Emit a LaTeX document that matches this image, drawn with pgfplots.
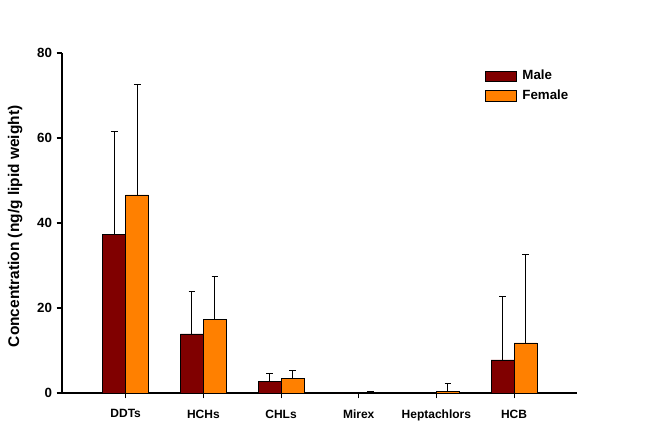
\documentclass[border=0pt]{standalone}
\usepackage{fontspec}
\setmainfont{Liberation Sans}
\usepackage{pgfplots}
\usepackage{pgfplotstable}
\pgfplotsset{compat=1.18}

\definecolor{male}{RGB}{128,0,0}
\definecolor{female}{RGB}{255,128,0}

% cat: 0 DDTs, 1 HCHs, 2 CHLs, 3 Mirex, 4 Heptachlors, 5 HCB
\pgfplotstableread{
x   m     merr  f     ferr
0   37.4  24.1  46.6  26.1
1   13.9  9.9   17.4  10.1
2   2.8   1.7   3.5   1.8
3   0     0     0.05  0.35
4   0.1   0     0.3   2.0
5   7.8   15.0  11.8  20.7
}\conc

\begin{document}
\begin{tikzpicture}[x=1pt,y=1pt]
\path[use as bounding box] (0,0) rectangle (493.5,327.75);
\begin{axis}[
  at={(46.5pt,33pt)}, anchor=south west,
  scale only axis,
  width=386.25pt, height=255pt,
  xmin=-0.82, xmax=5.81,
  ymin=0, ymax=80,
  axis x line*=bottom, axis y line*=left,
  axis line style={black, line width=0.8pt},
  tick align=outside,
  major tick length=4pt,
  tick style={black, line width=0.8pt},
  xtick={0,...,5},
  xticklabels={DDTs,HCHs,CHLs,Mirex,Heptachlors,HCB},
  ytick={0,20,...,80},
  yticklabel style={font=\bfseries\fontsize{10}{12}\selectfont},
  xticklabel style={font=\bfseries\fontsize{9}{11}\selectfont, yshift=-5pt},
  /pgf/number format/assume math mode=true,
  ylabel={Concentration (ng/g lipid weight)},
  ylabel style={font=\bfseries\fontsize{11.6}{13}\selectfont, at={(axis description cs:-0.091,0.49)}, anchor=center},
  ybar, bar width=0.296,
  legend style={draw=none, fill=none, at={(axis description cs:0.821,0.958)}, anchor=north west,
    font=\bfseries\fontsize{10}{11}\selectfont, row sep=2pt, column sep=2.5pt, inner sep=0pt},
  legend cell align=left,
  legend image code/.code={\draw[#1, draw=black, line width=0.5pt] (0pt,-3.9pt) rectangle (23pt,3.9pt);},
  clip=false,
]
\addplot[fill=male, draw=black, line width=0.5pt, bar shift=-0.148,
  error bars/.cd, y dir=plus, y explicit,
  error bar style={black, line width=0.7pt},
  error mark options={rotate=90, mark size=2.5pt, black, line width=0.7pt}]
  table[x=x, y=m, y error=merr] {\conc};
\addplot[fill=female, draw=black, line width=0.5pt, bar shift=0.148,
  error bars/.cd, y dir=plus, y explicit,
  error bar style={black, line width=0.7pt},
  error mark options={rotate=90, mark size=2.5pt, black, line width=0.7pt}]
  table[x=x, y=f, y error=ferr] {\conc};
\legend{Male, Female}
\end{axis}
\end{tikzpicture}
\end{document}
